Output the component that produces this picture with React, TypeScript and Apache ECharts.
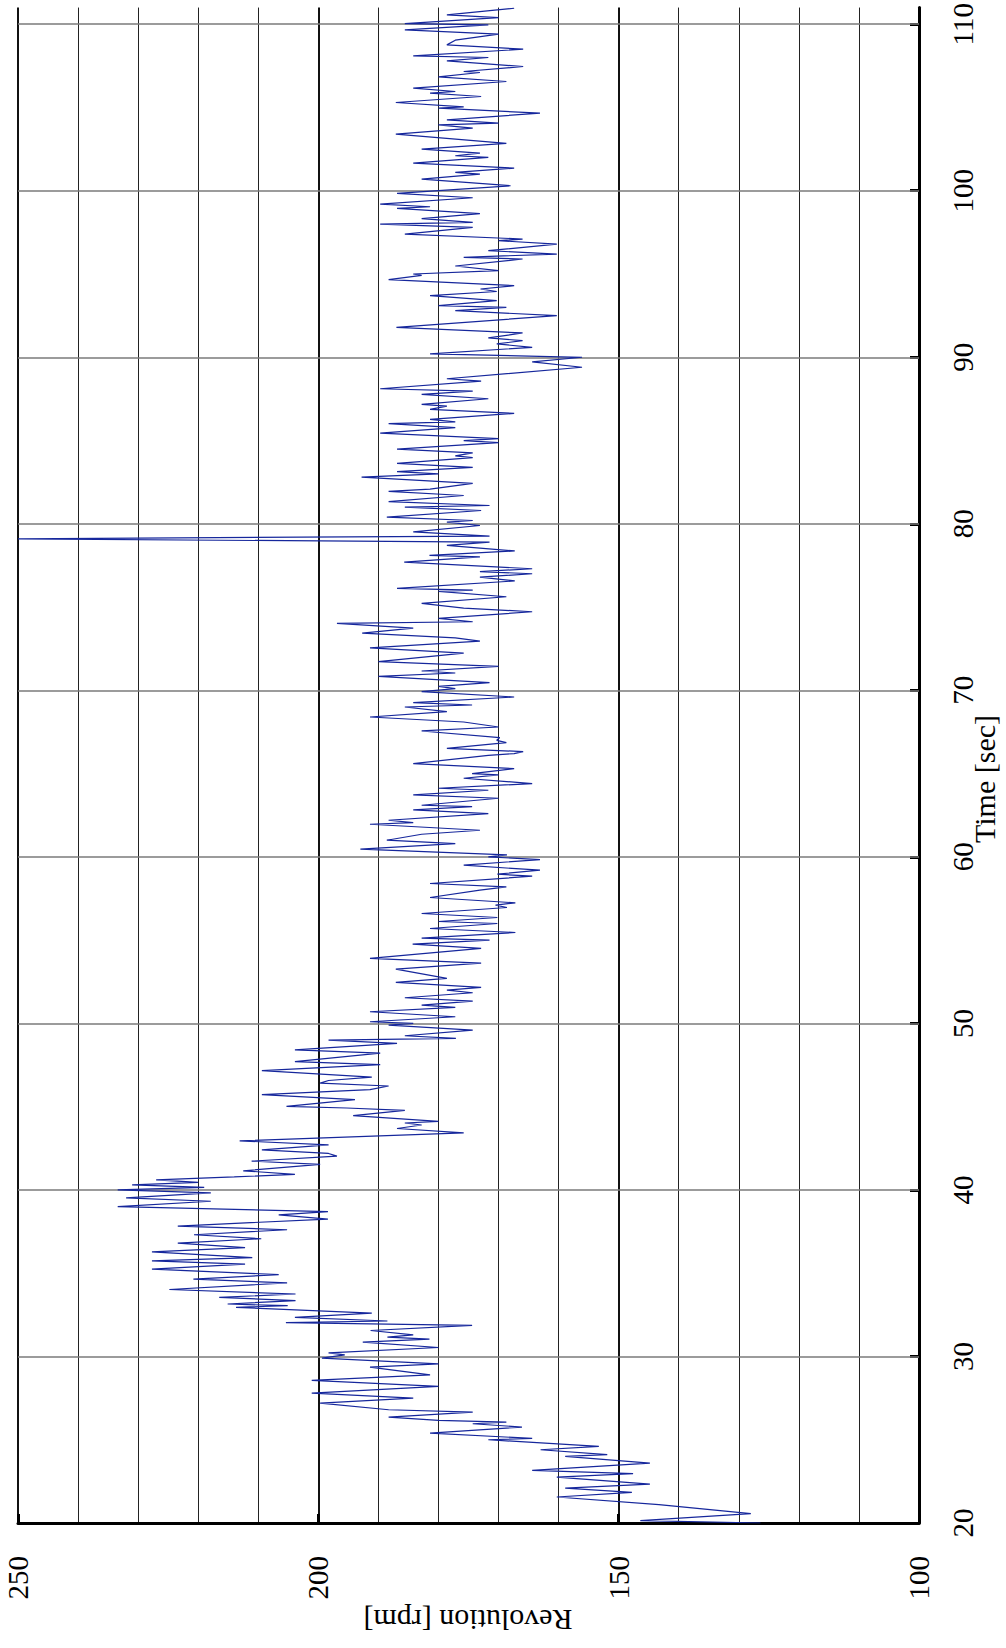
import React, { useEffect, useRef } from "react";
import * as echarts from "echarts";

// Shaft revolution record: time stamps [sec] and revolution [rpm]
const timeSec: number[] = [
  20.0, 20.14, 20.56, 21.1, 21.56, 21.84, 22.1, 22.34, 22.76, 22.96, 23.16, 23.6, 24.0, 24.1, 24.4, 24.6,
  25.0, 25.08, 25.4, 25.76, 25.96, 26.06, 26.16, 26.36, 26.66, 26.8, 27.2, 27.5, 27.8, 28.2, 28.56, 28.9,
  29.36, 29.56, 29.9, 30.1, 30.22, 30.54, 30.86, 31.04, 31.16, 31.3, 31.56, 31.87, 32.03, 32.13, 32.35, 32.6,
  32.95, 33.05, 33.15, 33.35, 33.55, 33.75, 34.02, 34.42, 34.64, 34.92, 35.24, 35.54, 35.74, 35.94, 36.28, 36.53,
  36.81, 37.07, 37.31, 37.61, 37.83, 38.25, 38.5, 38.7, 39.0, 39.32, 39.52, 39.82, 40.0, 40.15, 40.3, 40.45,
  40.6, 40.78, 40.94, 41.15, 41.53, 41.73, 42.03, 42.19, 42.4, 42.7, 42.95, 43.43, 43.69, 43.9, 44.02, 44.12,
  44.46, 44.78, 44.92, 45.02, 45.42, 45.72, 46.02, 46.24, 46.41, 46.57, 46.77, 47.17, 47.53, 47.71, 48.21, 48.41,
  48.8, 49.0, 49.1, 49.26, 49.6, 49.9, 50.0, 50.1, 50.4, 50.7, 50.96, 51.1, 51.34, 51.54, 51.84, 52.0,
  52.16, 52.46, 52.7, 53.26, 53.62, 53.9, 54.5, 54.76, 55.0, 55.12, 55.46, 55.7, 56.0, 56.12, 56.36, 56.6,
  56.96, 57.1, 57.24, 57.56, 58.0, 58.2, 58.4, 58.84, 58.96, 59.2, 59.5, 59.84, 60.0, 60.12, 60.46, 60.8,
  61.0, 61.36, 61.6, 61.96, 62.06, 62.2, 62.6, 62.82, 63.02, 63.1, 63.52, 63.72, 64.0, 64.12, 64.4, 64.72,
  64.92, 65.0, 65.3, 65.6, 66.1, 66.2, 66.32, 66.52, 66.86, 67.0, 67.16, 67.56, 67.8, 68.1, 68.4, 68.72,
  69.0, 69.12, 69.26, 69.6, 69.92, 70.1, 70.24, 70.46, 70.84, 71.04, 71.16, 71.44, 71.73, 72.23, 72.55, 72.95,
  73.15, 73.43, 73.74, 74.02, 74.12, 74.32, 74.72, 74.94, 75.22, 75.62, 75.94, 76.02, 76.12, 76.57, 76.8, 77.0,
  77.13, 77.3, 77.7, 78.02, 78.1, 78.37, 78.7, 78.9, 79.1, 79.26, 79.52, 79.9, 80.1, 80.2, 80.4, 80.8,
  81.0, 81.1, 81.33, 81.7, 81.95, 82.08, 82.43, 82.8, 83.0, 83.13, 83.39, 83.63, 83.98, 84.08, 84.26, 84.48,
  84.88, 85.0, 85.12, 85.44, 85.78, 86.02, 86.12, 86.27, 86.63, 86.87, 87.07, 87.17, 87.51, 87.77, 87.97, 88.11,
  88.57, 88.71, 89.4, 89.72, 90.0, 90.2, 90.6, 90.8, 91.0, 91.16, 91.46, 91.8, 92.5, 92.8, 93.0, 93.1,
  93.4, 93.7, 93.95, 94.1, 94.3, 94.66, 94.92, 95.0, 95.2, 95.48, 95.9, 96.0, 96.2, 96.4, 96.8, 97.0,
  97.1, 97.4, 97.8, 98.0, 98.1, 98.33, 98.63, 98.94, 99.04, 99.2, 99.58, 99.84, 100.3, 100.7, 101.0, 101.1,
  101.36, 101.66, 102.0, 102.1, 102.26, 102.5, 102.84, 103.4, 103.76, 103.96, 104.06, 104.26, 104.66, 104.96, 105.04, 105.3,
  105.66, 105.86, 105.96, 106.16, 106.56, 106.84, 107.1, 107.16, 107.46, 107.8, 108.0, 108.1, 108.5, 108.76, 109.04, 109.4,
  109.66, 109.96, 110.04, 110.4, 110.56, 110.96,
];

const revRpm: number[] = [
  126.4, 146.4, 128.0, 143.3, 160.3, 147.8, 158.9, 144.8, 160.3, 147.6, 164.4, 144.8, 158.9, 151.9, 163.0, 153.3,
  171.7, 164.4, 181.4, 166.1, 174.3, 168.7, 180.0, 188.3, 174.3, 188.3, 199.7, 184.2, 201.1, 180.0, 201.1, 181.4,
  191.4, 180.0, 199.4, 195.6, 198.3, 180.0, 192.6, 181.5, 188.5, 184.2, 191.3, 174.4, 205.4, 188.5, 203.9, 191.1,
  213.7, 205.1, 215.1, 203.8, 216.5, 203.8, 224.8, 205.2, 220.8, 206.6, 227.7, 212.2, 227.7, 211.0, 227.7, 212.2,
  223.4, 209.5, 220.7, 205.2, 223.4, 198.4, 206.6, 198.4, 233.4, 217.9, 232.0, 217.9, 233.4, 219.0, 231.0, 220.0,
  227.0, 214.0, 203.9, 212.5, 199.7, 211.1, 196.9, 198.3, 209.4, 198.3, 213.1, 175.8, 186.9, 182.8, 185.6, 180.0,
  194.2, 185.6, 195.3, 205.3, 193.9, 209.4, 191.4, 188.3, 199.7, 198.3, 191.1, 209.4, 189.7, 203.9, 189.7, 203.9,
  186.9, 198.3, 177.1, 185.6, 174.3, 188.3, 184.2, 191.4, 177.2, 191.4, 177.2, 182.8, 174.3, 185.6, 174.3, 178.6,
  172.9, 187.1, 178.6, 187.1, 172.9, 191.4, 172.9, 184.3, 171.5, 182.8, 167.2, 181.4, 170.2, 180.0, 170.2, 182.8,
  168.6, 170.5, 167.2, 181.4, 173.1, 168.7, 181.4, 164.4, 170.2, 163.1, 175.8, 163.1, 171.7, 168.6, 193.0, 177.2,
  188.6, 182.8, 173.1, 191.4, 184.2, 188.3, 171.7, 184.2, 174.4, 182.8, 170.0, 184.2, 171.7, 180.0, 164.4, 175.8,
  170.0, 174.4, 167.4, 184.2, 171.7, 167.4, 165.9, 178.6, 168.7, 170.3, 169.8, 182.8, 170.0, 175.8, 191.4, 178.6,
  185.6, 174.4, 184.2, 167.4, 182.8, 177.2, 180.0, 171.5, 190.0, 177.2, 182.8, 170.0, 190.0, 175.8, 191.4, 173.1,
  177.2, 192.7, 184.2, 196.9, 174.3, 180.0, 164.4, 175.8, 182.8, 168.7, 180.0, 174.3, 186.9, 167.3, 173.1, 164.4,
  173.1, 164.4, 185.7, 173.1, 181.5, 167.3, 178.6, 171.5, 250.0, 171.5, 184.2, 173.1, 178.6, 174.3, 188.6, 172.9,
  185.6, 171.5, 188.3, 175.8, 188.3, 181.4, 174.3, 192.8, 180.0, 186.9, 174.3, 186.9, 174.3, 177.2, 174.3, 186.9,
  170.0, 175.8, 170.0, 189.7, 177.2, 188.3, 177.2, 181.4, 167.4, 181.4, 178.6, 182.8, 171.7, 182.8, 174.3, 189.7,
  172.9, 178.6, 156.1, 164.4, 156.1, 181.4, 164.4, 170.3, 166.0, 171.7, 166.0, 187.0, 160.3, 177.2, 168.7, 180.0,
  170.3, 181.4, 170.3, 173.0, 167.4, 188.3, 182.8, 184.2, 170.0, 177.2, 166.0, 175.8, 160.3, 171.7, 160.3, 170.0,
  166.0, 185.6, 174.3, 189.7, 174.3, 182.8, 173.1, 186.9, 181.4, 189.7, 174.3, 186.9, 168.0, 182.8, 173.1, 177.2,
  167.4, 184.2, 171.7, 177.2, 173.1, 182.8, 168.7, 187.1, 174.3, 180.0, 170.0, 178.6, 163.1, 180.0, 175.8, 187.1,
  172.9, 181.4, 177.2, 184.2, 168.7, 180.0, 173.1, 175.8, 165.9, 178.6, 171.7, 184.2, 165.9, 178.6, 177.2, 170.0,
  185.6, 171.7, 185.6, 170.0, 178.6, 167.4,
];

// Axis ticks
const rpmTicks: number[] = [100, 150, 200, 250];
const timeTicks: number[] = [20, 30, 40, 50, 60, 70, 80, 90, 100, 110];
// Horizontal grid lines, one per labelled time tick
const timeGrid: number[] = [30, 40, 50, 60, 70, 80, 90, 100, 110];

const SERIF = "Liberation Serif";

export default function App() {
  const ref = useRef<HTMLDivElement>(null);

  useEffect(() => {
    if (!ref.current) return;
    const chart = echarts.init(ref.current, undefined, { renderer: "svg" });
    const points = timeSec.map((t, i) => [revRpm[i], t]);

    chart.setOption({
      animation: false,
      backgroundColor: "#ffffff",
      grid: { left: 18, right: 87, top: 6, bottom: 125, containLabel: false },
      xAxis: {
        type: "value",
        min: 100,
        max: 250,
        interval: 50,
        inverse: true,
        position: "bottom",
        axisLine: { show: true, onZero: false, lineStyle: { color: "#000", width: 3 } },
        axisTick: { show: true, inside: true, length: 9, lineStyle: { color: "#000", width: 3 }, customValues: rpmTicks },
        axisLabel: {
          rotate: 90,
          margin: 33,
          fontSize: 29,
          fontFamily: SERIF,
          color: "#000",
          customValues: rpmTicks,
        },
        splitLine: { show: true, lineStyle: { color: "#111", width: 2 } },
        minorTick: { show: false, splitNumber: 5 },
        minorSplitLine: { show: true, lineStyle: { color: "#222", width: 1 } },
      },
      yAxis: {
        type: "value",
        min: 20,
        max: 111,
        interval: 10,
        position: "right",
        axisLine: { show: true, onZero: false, lineStyle: { color: "#000", width: 3 } },
        axisTick: { show: true, inside: true, length: 9, lineStyle: { color: "#000", width: 3 }, customValues: timeTicks },
        axisLabel: {
          rotate: 90,
          margin: 29,
          fontSize: 29,
          fontFamily: SERIF,
          color: "#000",
          customValues: timeTicks,
        },
        splitLine: { show: false },
      },
      graphic: [
        {
          type: "text",
          x: 468,
          y: 1620,
          rotation: Math.PI,
          style: { text: "Revolution [rpm]", font: `30px ${SERIF}`, fill: "#000", align: "center", verticalAlign: "middle" },
        },
        {
          type: "text",
          x: 984,
          y: 779,
          rotation: Math.PI / 2,
          style: { text: "Time [sec]", font: `30px ${SERIF}`, fill: "#000", align: "center", verticalAlign: "middle" },
        },
      ],
      series: [
        {
          type: "line",
          data: points,
          showSymbol: false,
          symbol: "none",
          clip: true,
          lineStyle: { color: "#16279c", width: 1.2 },
          silent: true,
          z: 3,
          markLine: {
            silent: true,
            symbol: "none",
            label: { show: false },
            lineStyle: { color: "#7a7a7a", width: 1.5, type: "solid" },
            data: timeGrid.map((t) => ({ yAxis: t })),
            z: 1,
          },
        },
      ],
    });

    return () => chart.dispose();
  }, []);

  return (
    <div
      ref={ref}
      style={{ position: "absolute", left: 0, top: 0, width: 1006, height: 1648, background: "#fff" }}
    />
  );
}
